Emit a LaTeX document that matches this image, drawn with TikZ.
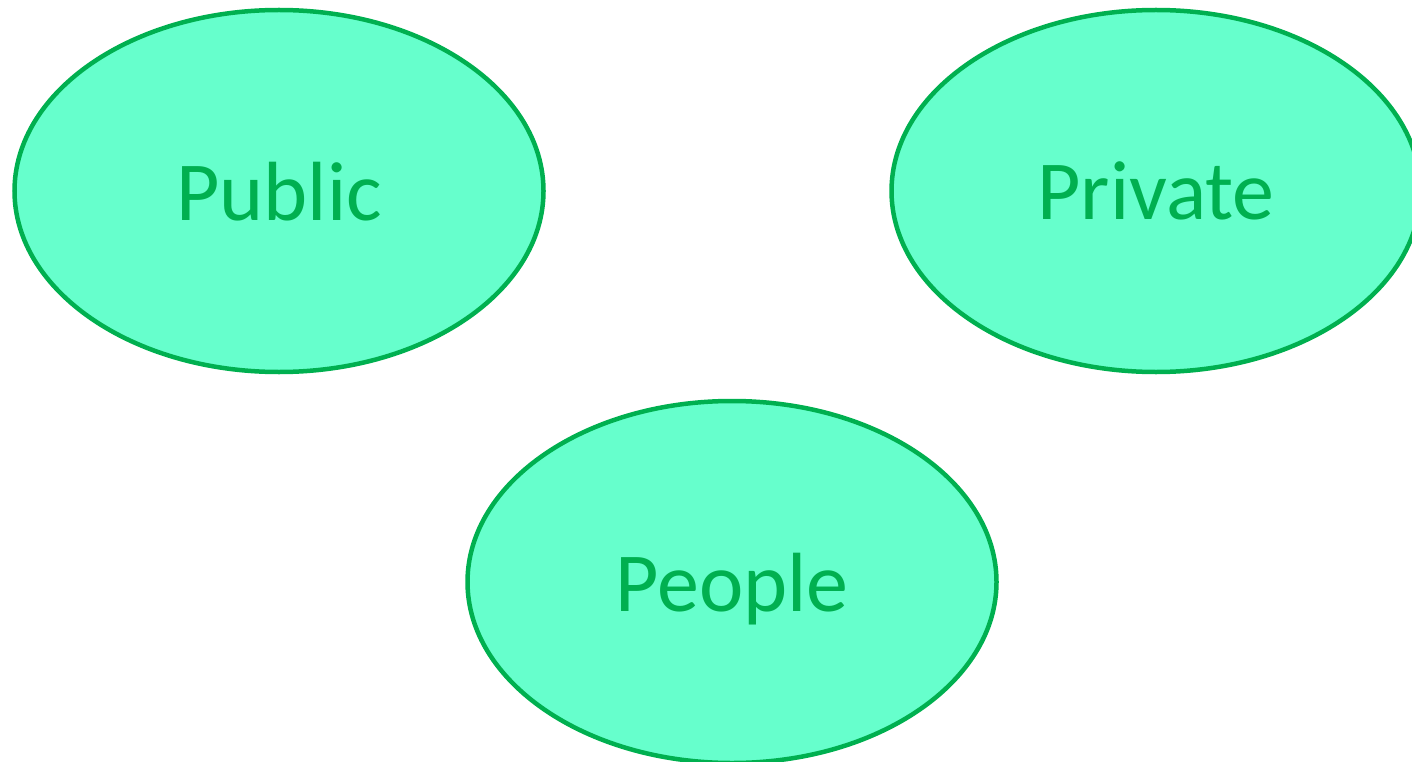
\documentclass[tikz,border=0pt]{standalone}
\usepackage{fontspec}
\setmainfont{Carlito}
\usetikzlibrary{shapes.geometric}
\definecolor{mint}{HTML}{66FFCC}
\definecolor{leaf}{HTML}{00B050}
\tikzset{
  bubble/.style={ellipse, draw=leaf, fill=mint, line width=4.5pt,
    minimum width=529pt, minimum height=362pt, inner sep=0pt,
    text depth=0pt, text=leaf, font=\fontsize{84}{100}\selectfont}
}
\begin{document}
\begin{tikzpicture}[x=1pt,y=1pt]
  \useasboundingbox (0,0) rectangle (1412,-762);
  \clip (0,0) rectangle (1412,-762);
  \node[bubble] (public) at (279,-191) {Public};
  \node[bubble] (private) at (1156,-191) {Private};
  \node[bubble] (people) at (732,-582) {People};
\end{tikzpicture}
\end{document}
